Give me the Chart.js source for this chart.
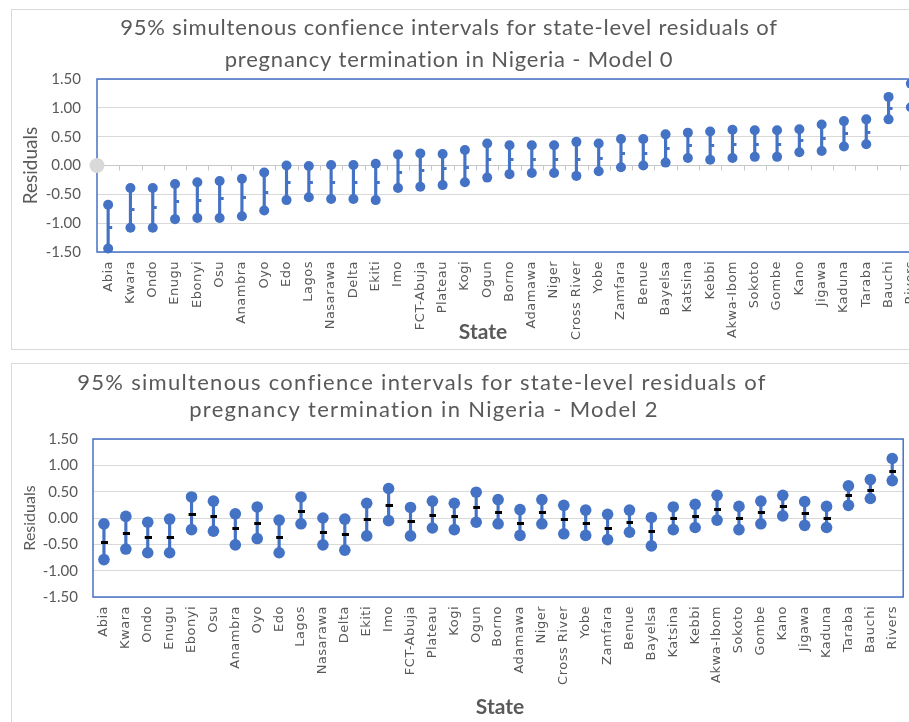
<!DOCTYPE html>
<html><head><meta charset="utf-8">
<script src="https://cdn.jsdelivr.net/npm/chart.js@4.4.1/dist/chart.umd.min.js"></script>
<style>
html,body{margin:0;padding:0;width:909px;height:722px;overflow:hidden;background:#fff;position:relative;}
.panel{position:absolute;border:1px solid #D9D9D9;background:#fff;box-sizing:border-box;}
#p1{left:11px;top:9px;width:1000px;height:341px;}
#p2{left:11px;top:363px;width:1000px;height:400px;}
#w1{position:absolute;left:0;top:0;width:950px;height:349px;}
#w2{position:absolute;left:0;top:350px;width:909px;height:372px;}
</style></head><body>
<div class="panel" id="p1"></div><div class="panel" id="p2"></div>
<div id="w1"><canvas id="c1"></canvas></div>
<div id="w2"><canvas id="c2"></canvas></div>
<script>
// ---------- data ----------
const states = ["Abia","Kwara","Ondo","Enugu","Ebonyi","Osu","Anambra","Oyo","Edo","Lagos","Nasarawa","Delta","Ekiti","Imo","FCT-Abuja","Plateau","Kogi","Ogun","Borno","Adamawa","Niger","Cross River","Yobe","Zamfara","Benue","Bayelsa","Katsina","Kebbi","Akwa-Ibom","Sokoto","Gombe","Kano","Jigawa","Kaduna","Taraba","Bauchi","Rivers"];

const m0Upper = [-0.68,-0.39,-0.39,-0.32,-0.29,-0.27,-0.23,-0.12,0.00,-0.01,0.01,0.01,0.03,0.19,0.21,0.20,0.27,0.38,0.35,0.35,0.35,0.41,0.38,0.46,0.46,0.54,0.57,0.59,0.62,0.61,0.61,0.63,0.71,0.77,0.80,1.19,1.42];
const m0Lower = [-1.44,-1.08,-1.08,-0.93,-0.91,-0.91,-0.88,-0.78,-0.60,-0.55,-0.58,-0.58,-0.60,-0.39,-0.37,-0.34,-0.29,-0.21,-0.15,-0.13,-0.13,-0.18,-0.10,-0.03,0.00,0.05,0.13,0.10,0.13,0.15,0.15,0.23,0.25,0.33,0.37,0.80,1.01];
const m0Resid = [-1.08,-0.76,-0.73,-0.63,-0.60,-0.58,-0.56,-0.46,-0.30,-0.29,-0.29,-0.30,-0.30,-0.12,-0.09,-0.06,-0.03,0.10,0.10,0.11,0.11,0.11,0.13,0.21,0.21,0.29,0.35,0.34,0.37,0.37,0.37,0.43,0.47,0.55,0.58,0.98,1.21];

const m2Upper = [-0.11,0.03,-0.08,-0.02,0.40,0.32,0.08,0.21,-0.04,0.40,0.00,-0.02,0.28,0.56,0.20,0.32,0.28,0.49,0.35,0.16,0.35,0.24,0.15,0.07,0.15,0.01,0.21,0.26,0.43,0.22,0.32,0.43,0.31,0.22,0.61,0.73,1.13];
const m2Lower = [-0.79,-0.59,-0.66,-0.66,-0.22,-0.25,-0.51,-0.39,-0.66,-0.11,-0.51,-0.61,-0.34,-0.05,-0.34,-0.19,-0.22,-0.08,-0.11,-0.33,-0.11,-0.30,-0.33,-0.41,-0.27,-0.53,-0.22,-0.18,-0.04,-0.22,-0.11,0.04,-0.14,-0.18,0.24,0.37,0.71];
const m2Resid = [-0.46,-0.29,-0.37,-0.37,0.07,0.02,-0.20,-0.10,-0.37,0.13,-0.27,-0.32,-0.03,0.24,-0.06,0.04,0.02,0.20,0.11,-0.11,0.11,-0.02,-0.11,-0.20,-0.09,-0.25,-0.01,0.02,0.16,-0.01,0.10,0.22,0.08,-0.01,0.42,0.52,0.89];

const yTicks = [-1.5,-1.0,-0.5,0.0,0.5,1.0,1.5];

const title0 = ["95% simultenous confience intervals for state-level residuals of","pregnancy termination in Nigeria - Model 0"];
const title2 = ["95% simultenous confience intervals for state-level residuals of","pregnancy termination in Nigeria - Model 2"];
const xTitle = "State";
const yTitle = "Residuals";

// ---------- styling helpers ----------
const BLUE = '#4472C4';
const TXT = '#595959';

function makeTick(w,h,x0,x1,color){
  const c = document.createElement('canvas');
  c.width = w; c.height = h;
  const g = c.getContext('2d');
  g.fillStyle = color; g.fillRect(x0,0,x1-x0,h);
  return c;
}
const tick0 = makeTick(10,3,5,9,BLUE);
const tick2 = makeTick(8,3,1,8,'#000000');

const framePlugin = {
  id:'frame',
  afterLayout(chart){
    const s = chart.scales.x;
    if (!s._lsWrapped){
      const orig = s.drawLabels;
      s.drawLabels = function(a){
        const c = this.ctx; const prev = c.letterSpacing;
        c.letterSpacing = chart.options.plugins.frame.letterSpacing || '0px';
        orig.call(this,a);
        c.letterSpacing = prev;
      };
      s._lsWrapped = true;
    }
  },
  beforeDatasetsDraw(chart, args, opts){
    const {ctx, chartArea:a, scales:{x,y}} = chart;
    ctx.save();
    if (opts.zeroTicks){
      const y0 = y.getPixelForValue(0);
      const n = x.ticks.length;
      const step = (x.getPixelForTick(n-1)-x.getPixelForTick(0))/(n-1);
      ctx.strokeStyle = '#C8C8C8'; ctx.lineWidth = 1;
      ctx.beginPath();
      ctx.moveTo(a.left,y0); ctx.lineTo(a.right,y0);
      for (let i=0;i<=n;i++){
        const px = Math.round(x.getPixelForTick(0) - step/2 + i*step)+0.5;
        ctx.moveTo(px,y0); ctx.lineTo(px,y0+5);
      }
      ctx.stroke();
    }
    ctx.strokeStyle = BLUE; ctx.lineWidth = 1.5;
    ctx.strokeRect(a.left, a.top, a.right-a.left, a.bottom-a.top);
    if (opts.ghost){
      ctx.fillStyle = '#D9D9D9';
      ctx.beginPath();
      ctx.arc(a.left, y.getPixelForValue(0), 7.5, 0, Math.PI*2);
      ctx.fill();
    }
    ctx.restore();
  },
  afterDraw(chart, args, opts){
    const ctx = chart.ctx;
    ctx.save();
    ctx.textAlign = 'center'; ctx.textBaseline = 'middle';
    (opts.texts||[]).forEach(t=>{
      ctx.font = t.font; ctx.fillStyle = t.color || TXT;
      ctx.letterSpacing = t.ls || '0px';
      ctx.fillText(t.text, t.x, t.y);
    });
    ctx.letterSpacing = '0px';
    ctx.restore();
  }
};

function buildChart(id, lower, upper, resid, cfg){
  const bars = lower.map((l,i)=>[l, upper[i]]);
  return new Chart(document.getElementById(id), {
    type:'bar',
    data:{
      labels: states,
      datasets:[
        {type:'bar', data:bars, backgroundColor:BLUE, barThickness:cfg.lineW, order:3},
        {type:'line', data:upper, showLine:false, pointRadius:cfg.r, pointHoverRadius:cfg.r, pointBackgroundColor:BLUE, pointBorderWidth:0, borderWidth:0, order:1, clip:false},
        {type:'line', data:lower, showLine:false, pointRadius:cfg.r, pointHoverRadius:cfg.r, pointBackgroundColor:BLUE, pointBorderWidth:0, borderWidth:0, order:1, clip:false},
        {type:'line', data:resid, showLine:false, pointStyle:cfg.tick, pointRadius:4, order:0, clip:false}
      ]
    },
    options:{
      responsive:true, maintainAspectRatio:false, animation:false,
      devicePixelRatio:1,
      layout:{padding:cfg.pad},
      plugins:{
        legend:{display:false}, tooltip:{enabled:false}, title:{display:false},
        frame:{zeroTicks:cfg.zeroTicks, ghost:cfg.ghost, texts:cfg.texts, letterSpacing:'0.5px'}
      },
      scales:{
        x:{
          type:'category', offset:true,
          grid:{display:false, drawTicks:false},
          border:{display:false},
          ticks:{autoSkip:false, maxRotation:90, minRotation:90, padding:cfg.xPad, color:TXT,
                 font:{family:'DejaVu Sans', size:13}},
          afterFit:(s)=>{ s.height = cfg.xH; s.paddingLeft = 0; s.paddingRight = 0; }
        },
        y:{
          min:-1.5, max:1.5,
          afterBuildTicks:(s)=>{ s.ticks = yTicks.map(v=>({value:v})); },
          grid:{color:'#D9D9D9', lineWidth:1, drawTicks:false},
          border:{display:false},
          ticks:{padding:cfg.yPad, color:TXT, font:{family:'Lato', size:15}, callback:(v)=>Number(v).toFixed(2)},
          title:{display:true, text:yTitle, color:TXT, font:{family:'Lato', size:cfg.yTitleSize}, padding:{top:cfg.yTitleTop, bottom:0}},
          afterFit:(s)=>{ s.width = cfg.yW; s.paddingTop = 0; s.paddingBottom = 0; }
        }
      }
    },
    plugins:[framePlugin]
  });
}

buildChart('c1', m0Lower, m0Upper, m0Resid, {
  lineW:2.5, r:5, tick:tick0, zeroTicks:true, ghost:true,
  pad:{left:0, top:79, right:28, bottom:7}, xH:90, xPad:9, yW:97, yPad:16,
  yTitleSize:19, yTitleTop:19,
  texts:[
    {text:title0[0], x:449, y:28, font:'22px Lato', ls:'0.8px'},
    {text:title0[1], x:449, y:60, font:'22px Lato', ls:'0.8px'},
    {text:xTitle, x:483, y:332, font:'bold 21px Lato'}
  ]
});

buildChart('c2', m2Lower, m2Upper, m2Resid, {
  lineW:2.5, r:5.8, tick:tick2, zeroTicks:false, ghost:false,
  pad:{left:0, top:89, right:2, bottom:5}, xH:120, xPad:9, yW:93, yPad:15,
  yTitleSize:16, yTitleTop:20,
  texts:[
    {text:title2[0], x:422, y:33, font:'22px Lato', ls:'1.3px'},
    {text:title2[1], x:424, y:60, font:'22px Lato', ls:'1.3px'},
    {text:xTitle, x:500, y:357, font:'bold 21px Lato'}
  ]
});
</script>
</body></html>
